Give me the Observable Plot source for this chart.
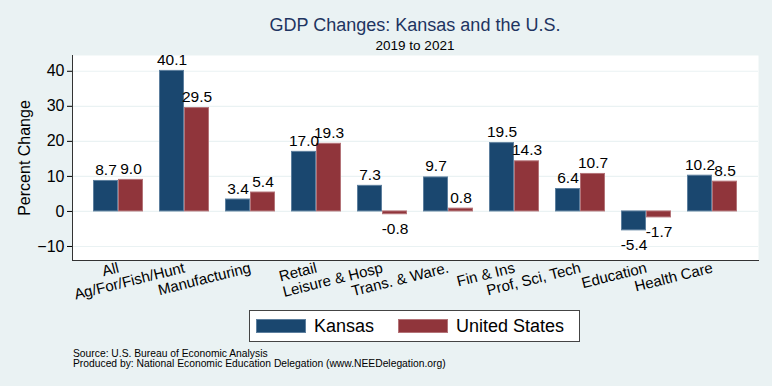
<!DOCTYPE html>
<html>
<head>
<meta charset="utf-8">
<script src="https://cdn.jsdelivr.net/npm/d3@7"></script>
<script src="https://cdn.jsdelivr.net/npm/@observablehq/plot@0.6"></script>
<style>
  html, body { margin: 0; padding: 0; }
  body { font-family: "Liberation Sans", Arial, Helvetica, sans-serif; }
  #wrap { position: relative; width: 772px; height: 386px; background: #eaf2f3; overflow: hidden; }
  #title { position: absolute; left: 72px; width: 686px; top: 15px; text-align: center; font-size: 18px; color: #1e3461; line-height: 20px; }
  #subtitle { position: absolute; left: 72px; width: 686px; top: 38px; text-align: center; font-size: 13.5px; color: #000; line-height: 16px; }
  .layer { position: absolute; left: 0; top: 0; }
  #legend { position: absolute; left: 249px; top: 310px; width: 329px; height: 30px; background: #fff; border: 1px solid #444; }
  .item { position: absolute; top: 0; height: 30px; display: flex; align-items: center; font-size: 18px; color: #000; }
  .sw { width: 50px; height: 14px; margin-right: 8px; box-sizing: border-box; }
  #caption { position: absolute; left: 73px; top: 349px; font-size: 10.3px; line-height: 10px; color: #000; }
</style>
</head>
<body>
<div id="wrap">
  <div id="title">GDP Changes: Kansas and the U.S.</div>
  <div id="subtitle">2019 to 2021</div>
  <div id="back" class="layer"></div>
  <div id="front" class="layer"></div>
  <div id="legend"></div>
  <div id="caption">Source: U.S. Bureau of Economic Analysis<br>Produced by: National Economic Education Delegation (www.NEEDelegation.org)</div>
</div>
<script>
const categories = ["All", "Ag/For/Fish/Hunt", "Manufacturing", "Retail", "Leisure & Hosp", "Trans. & Ware.", "Fin & Ins", "Prof, Sci, Tech", "Education", "Health Care"];
const seriesNames = ["Kansas", "United States"];
const kansas = [8.7, 40.1, 3.4, 17.0, 7.3, 9.7, 19.5, 6.4, -5.4, 10.2];
const unitedStates = [9.0, 29.5, 5.4, 19.3, -0.8, 0.8, 14.3, 10.7, -1.7, 8.5];
const yTicks = [-10, 0, 10, 20, 30, 40];
const yDomain = [-14, 44.5];
const colors = ["#1a476f", "#90353b"];
const outlines = ["#5d7f9e", "#b47378"];

const data = [];
categories.forEach((c, i) => {
  data.push({category: c, series: seriesNames[0], value: kansas[i]});
  data.push({category: c, series: seriesNames[1], value: unitedStates[i]});
});

const common = {
  width: 772,
  height: 300,
  marginLeft: 72,
  marginRight: 14,
  marginTop: 55,
  marginBottom: 40,
  style: {background: "transparent", fontFamily: "'Liberation Sans', Arial, sans-serif", fontSize: "15px", color: "#000", overflow: "visible"}
};

// Background layer: plot region, grid, y axis, axis lines
const back = Plot.plot({
  ...common,
  y: {domain: yDomain, label: null},
  marks: [
    Plot.frame({fill: "white", stroke: null}),
    Plot.gridY(yTicks, {stroke: "#eaf2f3", strokeOpacity: 1, strokeWidth: 1.2}),
    Plot.axisY(yTicks, {anchor: "left", tickSize: 5, tickPadding: 3, fontSize: "16px", label: "Percent Change", labelAnchor: "center", labelArrow: "none", labelOffset: 54}),
    Plot.frame({anchor: "left", stroke: "#333"}),
    Plot.frame({anchor: "bottom", stroke: "#333"})
  ]
});
document.getElementById("back").appendChild(back);

// Front layer: grouped bars, value labels, category labels
const front = Plot.plot({
  ...common,
  fx: {domain: categories, paddingInner: 0.25, paddingOuter: 0.26, label: null},
  x: {domain: seriesNames, padding: 0, axis: null},
  y: {domain: yDomain, axis: null},
  color: {domain: seriesNames, range: colors},
  marks: [
    Plot.barY(data, {fx: "category", x: "series", y: "value", fill: "series", stroke: d => outlines[seriesNames.indexOf(d.series)], strokeWidth: 1, insetLeft: 0.5, insetRight: 0.5}),
    Plot.text(data.filter(d => d.value >= 0), {fx: "category", x: "series", y: "value", text: d => d.value.toFixed(1), lineAnchor: "bottom", dy: -6, fontSize: "15.5px", fill: "#000"}),
    Plot.text(data.filter(d => d.value < 0), {fx: "category", x: "series", y: "value", text: d => d.value.toFixed(1), lineAnchor: "top", dy: 9, fontSize: "15.5px", fill: "#000"}),
    Plot.axisFx({anchor: "bottom", tickSize: 0, tickRotate: -14, tickPadding: 7, fontSize: "15px", label: null})
  ]
});
document.getElementById("front").appendChild(front);

const legend = document.getElementById("legend");
const legendLeft = [6, 148];
seriesNames.forEach((s, i) => {
  const item = document.createElement("div");
  item.className = "item";
  item.style.left = legendLeft[i] + "px";
  const sw = document.createElement("div");
  sw.className = "sw";
  sw.style.background = colors[i];
  sw.style.border = "1px solid " + outlines[i];
  const t = document.createElement("span");
  t.textContent = s;
  item.appendChild(sw);
  item.appendChild(t);
  legend.appendChild(item);
});
</script>
</body>
</html>
